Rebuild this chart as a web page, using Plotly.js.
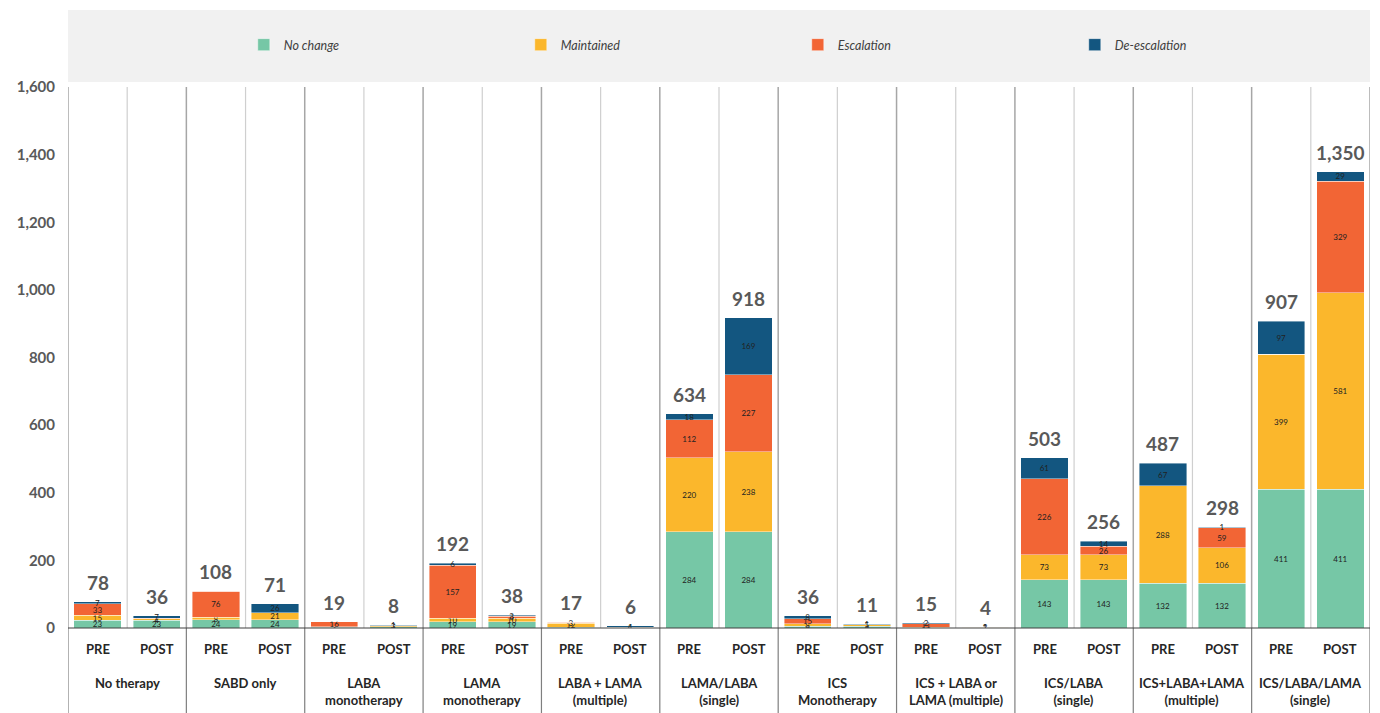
<!DOCTYPE html>
<html>
<head>
<meta charset="utf-8">
<script src="https://cdn.plot.ly/plotly-3.0.1.min.js"></script>
<style>html,body{margin:0;padding:0;background:#fff;}#chart{width:1380px;height:713px;}</style>
</head>
<body>
<div id="chart"></div>
<script>
// ---- data ----
const groups = ["No therapy","SABD only","LABA<br>monotherapy","LAMA<br>monotherapy","LABA + LAMA<br>(multiple)","LAMA/LABA<br>(single)","ICS<br>Monotherapy","ICS + LABA or<br>LAMA (multiple)","ICS/LABA<br>(single)","ICS+LABA+LAMA<br>(multiple)","ICS/LABA/LAMA<br>(single)"];
const phases = ["PRE","POST"];
const noChange     = [23,23,24,24,2,4,19,19,2,1,284,284,5,5,1,1,143,143,132,132,411,411];
const maintained   = [15,4,8,21,1,3,10,10,12,1,220,238,8,5,1,1,73,73,288,106,399,581];
const escalation   = [33,2,76,0,16,0,157,6,3,0,112,227,15,0,11,0,226,26,0,59,0,329];
const deEscalation = [7,7,0,26,0,1,6,3,0,4,18,169,8,1,2,2,61,14,67,1,97,29];
const totals       = [78,36,108,71,19,8,192,38,17,6,634,918,36,11,15,4,503,256,487,298,907,1350];
const seriesNames  = ["No change","Maintained","Escalation","De-escalation"];
const seriesColors = ["#76c7a6","#fbb72c","#f26535","#135680"];
const yTicks = [0,200,400,600,800,1000,1200,1400,1600];

// ---- build ----
const n = totals.length;
const xs = Array.from({length:n},(_,i)=>i);
const series = [noChange, maintained, escalation, deEscalation];
const traces = series.map((vals,k)=>({
  type:'bar', name:seriesNames[k], x:xs, y:vals, width:0.8,
  marker:{color:seriesColors[k], line:{color:'rgba(255,255,255,0.7)', width:0.6}},
  text: vals.map(v=> v>0 ? String(v) : ''),
  textposition:'inside', insidetextanchor:'middle', textangle:0, constraintext:'none',
  textfont:{family:'Lato, "Open Sans", sans-serif', size:8, color:'#222222'},
  hoverinfo:'name+y'
}));

const plotTop = 87, plotBottom = 628, plotH = plotBottom - plotTop;
const py = p => (plotBottom - p) / plotH;

const shapes = [];
// legend background box
shapes.push({type:'rect', xref:'paper', yref:'paper', x0:0, x1:1, y0:py(82), y1:py(10), fillcolor:'#f1f1f1', line:{width:0}, layer:'below'});
// vertical separators between bars and groups
for (let b=0; b<=n; b++){
  const xv = b - 0.5;
  const isGroup = (b % 2 === 0);
  shapes.push({type:'line', xref:'x', yref:'paper', x0:xv, x1:xv, y0:0, y1:1,
    line:{color: isGroup ? '#a6a6a6' : '#cfcfcf', width: isGroup ? 1.5 : 1.2}, layer:'below'});
  if (isGroup){
    shapes.push({type:'line', xref:'x', yref:'paper', x0:xv, x1:xv, y0:0, y1:py(713),
      line:{color:'#7f7f7f', width:1.2}});
  }
}
// baseline
shapes.push({type:'line', xref:'paper', yref:'paper', x0:0, x1:1, y0:0, y1:0, line:{color:'#404040', width:1.2}});

const annotations = [];
// totals above bars
xs.forEach(i=>{
  annotations.push({xref:'x', yref:'y', x:i, y:totals[i], text:totals[i].toLocaleString('en-US'),
    showarrow:false, yanchor:'bottom', yshift:6,
    font:{family:'Lato, "Open Sans", sans-serif', size:19, color:'#595959', weight:'bold'}});
});
xs.forEach(i=>{
  annotations.push({xref:'x', yref:'paper', x:i, y:py(649), text:phases[i%2], showarrow:false,
    font:{family:'Lato, "Open Sans", sans-serif', size:13, color:'#262626', weight:'bold'}, yanchor:'middle'});
});
groups.forEach((g,gi)=>{
  annotations.push({xref:'x', yref:'paper', x:gi*2+0.5, y:py(673), text:g, showarrow:false,
    font:{family:'Lato, "Open Sans", sans-serif', size:13, color:'#262626', weight:'bold'}, yanchor:'top', align:'center'});
});

const layout = {
  width:1380, height:713,
  margin:{l:68, r:10, t:plotTop, b:713-plotBottom, pad:0, autoexpand:false},
  paper_bgcolor:'#ffffff', plot_bgcolor:'#ffffff',
  barmode:'stack', bargap:0.2,
  showlegend:true,
  legend:{orientation:'h', x:0.135, xanchor:'left', y:py(45), yanchor:'middle',
    bgcolor:'rgba(0,0,0,0)', entrywidth:232, entrywidthmode:'pixels', itemwidth:30,
    font:{family:'Lato, "Open Sans", sans-serif', size:12.5, color:'#404040', style:'italic'},
    traceorder:'normal'},
  xaxis:{range:[-0.5, n-0.5], showticklabels:false, ticks:'', showgrid:false, zeroline:false, showline:false, fixedrange:true},
  yaxis:{range:[0,1600], tickvals:yTicks, ticktext:yTicks.map(v=>v.toLocaleString('en-US')),
    showgrid:false, zeroline:false, showline:false, ticks:'', ticklabelstandoff:12,
    tickfont:{family:'Lato, "Open Sans", sans-serif', size:15, color:'#595959', weight:'bold'}},
  shapes: shapes,
  annotations: annotations
};

Plotly.newPlot('chart', traces, layout, {displayModeBar:false, staticPlot:true});
</script>
</body>
</html>
